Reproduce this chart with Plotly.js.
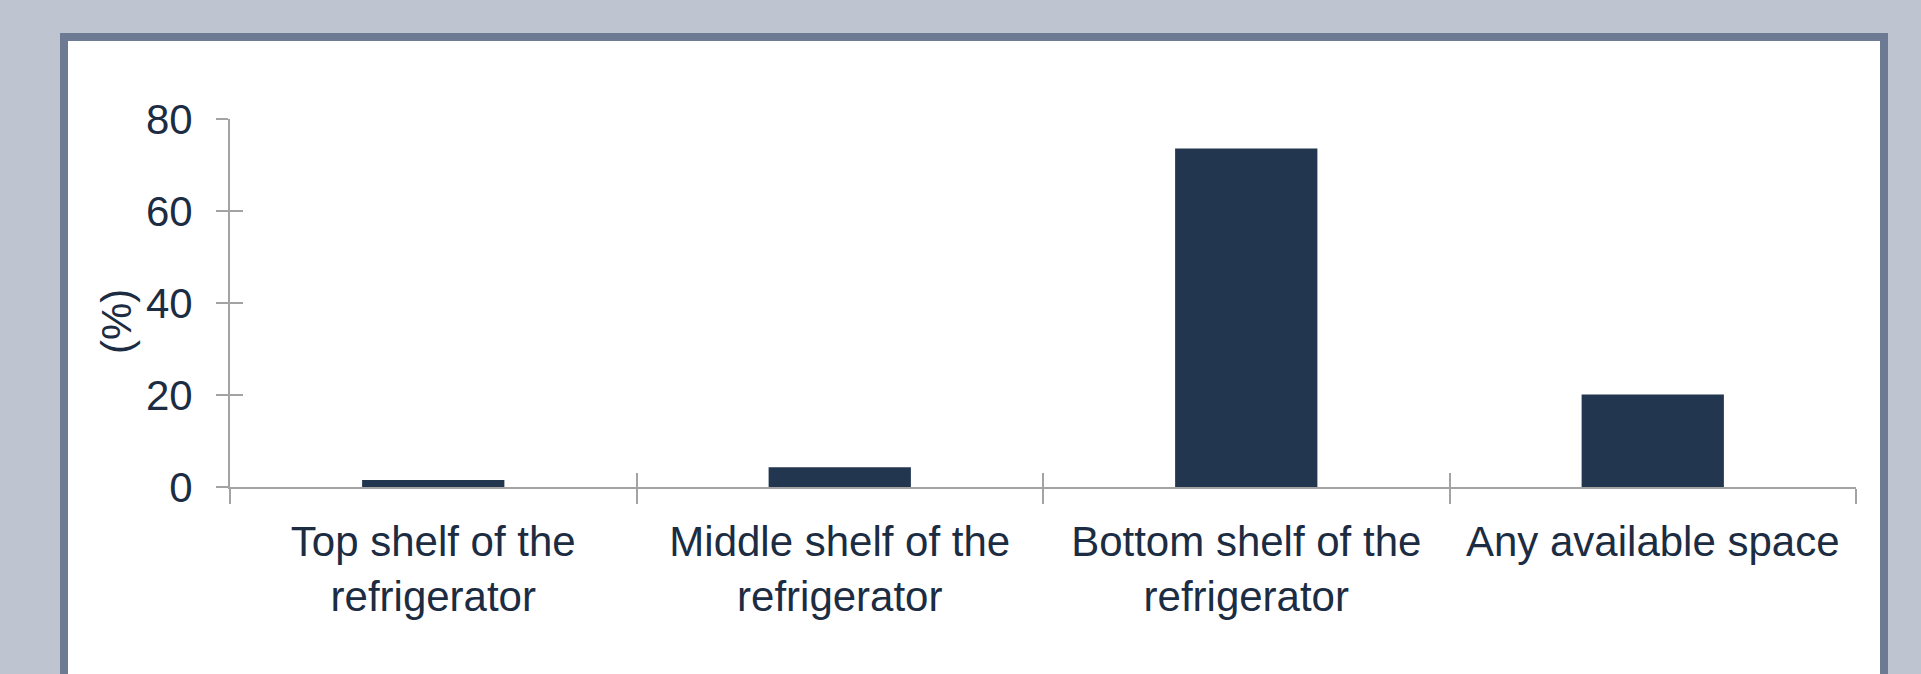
<!DOCTYPE html>
<html>
<head>
<meta charset="utf-8">
<script src="https://cdn.plot.ly/plotly-3.0.1.min.js"></script>
<style>
  html, body { margin: 0; padding: 0; background: #BEC4D0; }
  #chart { width: 1921px; height: 674px; }
</style>
</head>
<body>
<div id="chart"></div>
<script>
// ---- data ----
const categories = [
  "Top shelf of the<br>refrigerator",
  "Middle shelf of the<br>refrigerator",
  "Bottom shelf of the<br>refrigerator",
  "Any available space"
];
const values = [1.5, 4.3, 73.6, 20.1];
const yTickValues = [0, 20, 40, 60, 80];
const yTickLabels = ["0", "20", "40", "60", "80"];
const yAxisLabel = "(%)";

// ---- geometry helpers (pixel -> paper) ----
const W = 1921, H = 674;
const M = { l: 230, r: 65, t: 119, b: 187 };
const PW = W - M.l - M.r, PH = H - M.t - M.b;
const fx = px => (px - M.l) / PW;
const fy = py => (H - M.b - py) / PH;

const textColor = "#1C2C42";
const barColor = "#22364F";
const axisColor = "#A3A3A3";
const fontFam = "'Liberation Sans', Arial, sans-serif";

const traces = [
  {
    type: "bar",
    x: categories,
    y: values,
    marker: { color: barColor, line: { width: 0 } },
    hoverinfo: "x+y",
    showlegend: false
  },
  {
    type: "scatter",
    x: [], y: [],
    xaxis: "x2", yaxis: "y2",
    showlegend: false, hoverinfo: "skip"
  }
];

const layout = {
  width: W, height: H,
  margin: M,
  paper_bgcolor: "#BEC4D0",
  plot_bgcolor: "rgba(0,0,0,0)",
  font: { family: fontFam, color: textColor },
  bargap: 0.65,
  showlegend: false,
  xaxis: {
    type: "category",
    categoryorder: "array",
    categoryarray: categories,
    range: [-0.5, 3.5],
    showline: true, linecolor: axisColor, linewidth: 2,
    ticks: "outside", ticklen: 15, tickwidth: 2, tickcolor: axisColor,
    tickson: "boundaries",
    tickfont: { size: 42, color: textColor, family: fontFam },
    ticklabelstandoff: 17,
    showgrid: false, zeroline: false, fixedrange: true
  },
  xaxis2: {
    overlaying: "x", anchor: "y", side: "bottom",
    range: [-0.5, 3.5],
    tickmode: "array", tickvals: [-0.5, 0.5, 1.5, 2.5, 3.5],
    ticks: "inside", ticklen: 14, tickwidth: 2, tickcolor: axisColor,
    showticklabels: false, showline: false, showgrid: false, zeroline: false,
    fixedrange: true
  },
  yaxis: {
    range: [0, 80],
    tickmode: "array", tickvals: yTickValues, ticktext: yTickLabels,
    showline: true, linecolor: axisColor, linewidth: 2,
    ticks: "outside", ticklen: 12, tickwidth: 2, tickcolor: axisColor,
    tickfont: { size: 42, color: textColor, family: fontFam },
    ticklabelstandoff: 15,
    showgrid: false, zeroline: false, fixedrange: true
  },
  yaxis2: {
    overlaying: "y", anchor: "x", side: "left",
    range: [0, 80],
    tickmode: "array", tickvals: yTickValues,
    ticks: "inside", ticklen: 13, tickwidth: 2, tickcolor: axisColor,
    showticklabels: false, showline: false, showgrid: false, zeroline: false,
    fixedrange: true
  },
  annotations: [
    {
      text: yAxisLabel,
      xref: "paper", yref: "paper",
      x: fx(116), y: fy(322),
      xanchor: "center", yanchor: "middle",
      textangle: -90, showarrow: false,
      font: { size: 42, color: textColor, family: fontFam }
    }
  ],
  shapes: [
    {
      type: "rect", xref: "paper", yref: "paper", layer: "below",
      x0: fx(60), x1: fx(1888), y0: fy(33), y1: fy(690),
      fillcolor: "#6C7A94", line: { width: 0 }
    },
    {
      type: "rect", xref: "paper", yref: "paper", layer: "below",
      x0: fx(68), x1: fx(1880), y0: fy(41), y1: fy(690),
      fillcolor: "#FFFFFF", line: { width: 0 }
    }
  ]
};

Plotly.newPlot("chart", traces, layout, { displayModeBar: false, staticPlot: true });
</script>
</body>
</html>
